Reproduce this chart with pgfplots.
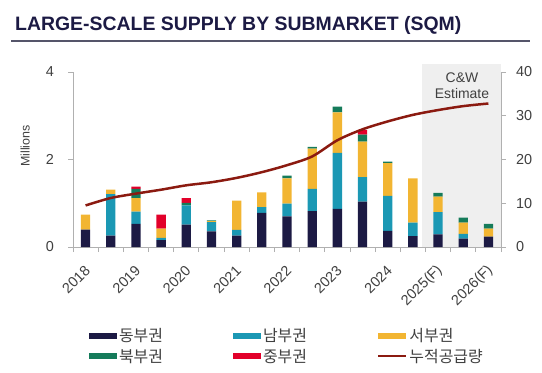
\documentclass[border=0pt]{standalone}
\usepackage{pgfplots}
\pgfplotsset{compat=1.18}
\usepackage{pgfplotstable}
\usepackage{fontspec}
\setmainfont{Liberation Sans}
\newfontfamily\kr{Noto Sans CJK KR}
\definecolor{cnavy}{HTML}{1C1A44}
\definecolor{cteal}{HTML}{1B98B4}
\definecolor{cyel}{HTML}{F2B532}
\definecolor{cgreen}{HTML}{157B5A}
\definecolor{cred}{HTML}{E2002A}
\definecolor{cline}{HTML}{8B1A10}
\definecolor{caxis}{HTML}{B0B0B0}
\definecolor{ctext}{HTML}{404040}
\definecolor{cshade}{HTML}{EFEFEF}
\definecolor{crule}{HTML}{55556A}

\pgfplotstableread{
idx navy teal yel green red cum
0  0.40 0.00 0.34 0.00 0.00 9.5
1  0.26 0.95 0.10 0.00 0.00 11.2
2  0.53 0.28 0.31 0.21 0.05 12.2
3  0.16 0.05 0.21 0.00 0.32 13.1
4  0.51 0.44 0.00 0.06 0.11 14.1
5  0.36 0.21 0.02 0.02 0.00 14.8
6  0.26 0.13 0.67 0.00 0.00 15.8
7  0.78 0.13 0.34 0.00 0.00 17.1
8  0.70 0.29 0.58 0.06 0.00 18.7
9  0.82 0.51 0.92 0.04 0.00 20.7
10 0.87 1.28 0.93 0.13 0.00 24.4
11 1.04 0.56 0.81 0.16 0.11 26.9
12 0.37 0.80 0.75 0.03 0.00 28.7
13 0.25 0.31 1.01 0.00 0.00 30.2
14 0.29 0.51 0.35 0.09 0.00 31.3
15 0.19 0.11 0.26 0.11 0.00 32.2
16 0.24 0.00 0.18 0.11 0.00 32.8
}\datatable

\pgfplotsset{commonax/.style={
  at={(73bp,125bp)}, anchor=south west,
  width=428bp, height=175bp, scale only axis,
  xmin=-0.5, xmax=16.5,
  /pgf/number format/assume math mode=true,
  ticklabel style={font=\fontsize{14.5}{16}\selectfont, text=ctext},
  axis line style={caxis, line width=0.8bp},
  major tick length=5bp,
  tick align=outside,
}}

\begin{document}
\begin{tikzpicture}[x=1bp,y=1bp]
\useasboundingbox (0,0) rectangle (542,372);
\node[anchor=base west, inner sep=0pt, text=cnavy, font=\fontsize{19.5}{21}\selectfont\bfseries] at (15,342) {LARGE-SCALE SUPPLY BY SUBMARKET (SQM)};
\draw[crule, line width=2bp] (11,331.3) -- (530,331.3);

% background: estimate shading
\begin{axis}[commonax, ymin=0, ymax=4, hide axis, clip=false]
\fill[cshade] (axis cs:13.35,0) rectangle (axis cs:16.5,4.18);
\node[align=center, text=ctext, font=\fontsize{14}{16.5}\selectfont] at (axis cs:14.95,3.69) {C\&W\\Estimate};
\end{axis}

\begin{axis}[
  commonax,
  ymin=0, ymax=4,
  axis lines*=left,
  ybar stacked, bar width=9.3bp,
  xtick={0,2,...,16},
  xticklabels={2018,2019,2020,2021,2022,2023,2024,2025(F),2026(F)},
  minor xtick={-0.5,0.5,...,16.5},
  major x tick style={draw=none},
  minor x tick style={caxis, line width=0.8bp},
  minor tick length=5bp,
  ytick={0,2,4},
  ytick style={caxis, line width=0.8bp},
  xticklabel style={inner sep=0pt, anchor=east, xshift=2bp, yshift=-16bp, rotate=45},
  yticklabel style={inner sep=0pt, anchor=east, xshift=-14bp},
  ylabel={Millions},
  ylabel style={at={(axis description cs:-0.112,0.577)}, anchor=center, rotate=0, font=\fontsize{12.5}{14}\selectfont, text=ctext},
  legend columns=3,
  legend style={draw=none, fill=none, at={(axis description cs:0.03,-0.44)}, anchor=north west,
    font=\kr\fontsize{16}{18}\selectfont, text=ctext,
    /tikz/every even column/.append style={column sep=68bp},
    row sep=2bp},
  legend cell align=left,
  area legend,
  legend image code/.code={\fill[#1] (0bp,-3bp) rectangle (28bp,3bp);},
]
\addplot[fill=cnavy, draw=none] table[x=idx, y=navy] {\datatable};
\addplot[fill=cteal, draw=none] table[x=idx, y=teal] {\datatable};
\addplot[fill=cyel, draw=none] table[x=idx, y=yel] {\datatable};
\addplot[fill=cgreen, draw=none] table[x=idx, y=green] {\datatable};
\addplot[fill=cred, draw=none] table[x=idx, y=red] {\datatable};
\addlegendentry{동부권}
\addlegendentry{남부권}
\addlegendentry{서부권}
\addlegendentry{북부권}
\addlegendentry{중부권}
\addlegendimage{legend image code/.code={\draw[cline, line width=2.5bp] (0bp,0bp) -- (28bp,0bp);}}
\addlegendentry{누적공급량}
\end{axis}

\begin{axis}[
  commonax,
  ymin=0, ymax=40,
  axis x line=none,
  axis y line*=right,
  ytick={0,10,20,30,40},
  ytick style={caxis, line width=0.8bp},
  yticklabel style={inner sep=0pt, anchor=west, xshift=10bp},
]
\addplot[cline, line width=2.5bp, smooth, mark=none] table[x=idx, y=cum] {\datatable};
\end{axis}
\end{tikzpicture}
\end{document}
